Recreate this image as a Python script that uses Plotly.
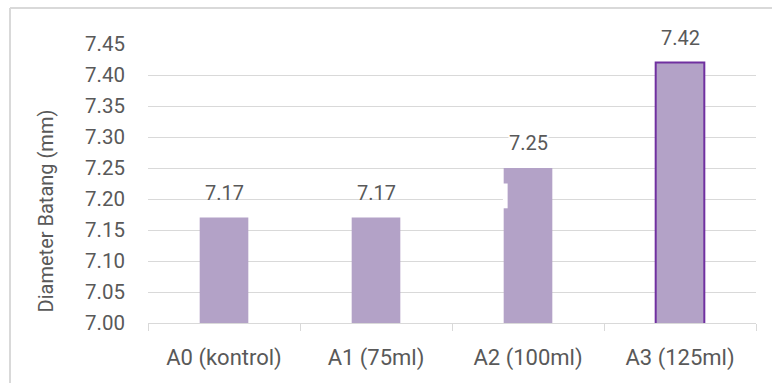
import plotly.graph_objects as go

# Stem diameter per treatment
categories = ["A0 (kontrol)", "A1 (75ml)", "A2 (100ml)", "A3 (125ml)"]
diameter_mm = [7.17, 7.17, 7.25, 7.42]
y_ticks = [7.00, 7.05, 7.10, 7.15, 7.20, 7.25, 7.30, 7.35, 7.40, 7.45]

W, H = 772, 383
ML, MR, MT, MB = 148, 16, 44, 60
PW, PH = W - ML - MR, H - MT - MB

TEXT = "#595959"
GRID = "#D9D9D9"
FILL = "#B3A2C7"
EDGE = "#7030A0"
FONT = "Roboto"

line_colors = [FILL, FILL, FILL, EDGE]
line_widths = [0, 0, 0, 2]

fig = go.Figure(
    go.Bar(
        x=categories,
        y=diameter_mm,
        marker=dict(color=FILL, line=dict(color=line_colors, width=line_widths)),
        hoverinfo="skip",
    )
)

# value labels above each bar
for cat, val in zip(categories, diameter_mm):
    fig.add_annotation(
        x=cat, y=val, text=f"{val:.2f}", showarrow=False,
        xanchor="center", yanchor="middle", yshift=25,
        font=dict(family=FONT, size=20, color=TEXT),
        bgcolor="white" if cat == "A2 (100ml)" else None,
        borderpad=0,
    )

# axis title
fig.add_annotation(
    xref="paper", yref="paper", x=(46 - ML) / PW, y=0.40,
    xanchor="center", yanchor="middle",
    text="Diameter Batang (mm)", textangle=-90, showarrow=False,
    font=dict(family=FONT, size=20, color=TEXT),
)

def px_x(p):
    return (p - ML) / PW

def px_y(p):
    return (MT + PH - p) / PH

shapes = [
    # frame (top and left edges)
    dict(type="line", xref="paper", yref="paper", x0=px_x(10), x1=px_x(772),
         y0=px_y(8), y1=px_y(8), line=dict(color=GRID, width=2)),
    dict(type="line", xref="paper", yref="paper", x0=px_x(10), x1=px_x(10),
         y0=px_y(8), y1=px_y(383), line=dict(color=GRID, width=2)),
    # small gap on the A2 bar
    dict(type="rect", xref="x", yref="y", x0=1.835, x1=1.866, y0=7.185, y1=7.225,
         fillcolor="white", line=dict(width=0), layer="above"),
]

fig.update_layout(
    width=W, height=H,
    margin=dict(l=ML, r=MR, t=MT, b=MB),
    paper_bgcolor="white", plot_bgcolor="white",
    bargap=0.68, showlegend=False,
    shapes=shapes,
    font=dict(family=FONT, color=TEXT),
)
fig.update_xaxes(
    type="category", range=[-0.5, 3.5],
    showline=True, linecolor=GRID, linewidth=1,
    ticks="outside", tickson="boundaries", ticklen=7, tickcolor=GRID, tickwidth=1,
    showgrid=False, ticklabelstandoff=15,
    tickfont=dict(family=FONT, size=22, color=TEXT),
)
fig.update_yaxes(
    range=[7.0, 7.45], tickvals=y_ticks, tickformat=".2f",
    showgrid=True, gridcolor=GRID, gridwidth=1, zeroline=False, showline=False,
    ticks="", ticklabelstandoff=22,
    tickfont=dict(family=FONT, size=20.5, color=TEXT),
)

fig.write_html("out.html")
